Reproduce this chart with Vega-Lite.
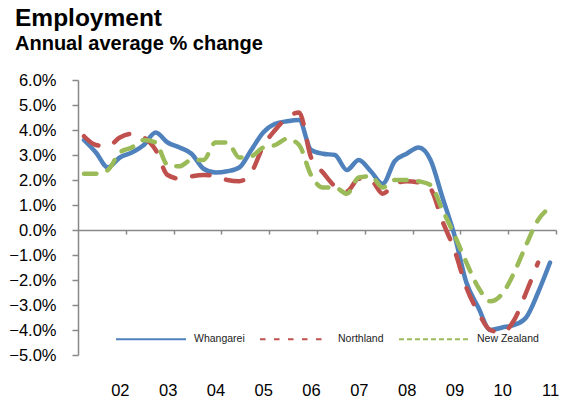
{
  "$schema": "https://vega.github.io/schema/vega-lite/v6.json",
  "width": 478,
  "height": 275,
  "autosize": {"type": "none"},
  "padding": {"left": 78, "top": 80, "right": 9, "bottom": 46},
  "background": "white",
  "config": {"view": {"stroke": null}, "font": "Liberation Sans"},
  "title": {
    "text": "Employment",
    "subtitle": "Annual average % change",
    "anchor": "start",
    "frame": "group",
    "dx": -63,
    "offset": 17,
    "fontSize": 24.5,
    "subtitleFontSize": 20,
    "fontWeight": "bold",
    "subtitleFontWeight": "bold",
    "color": "black",
    "subtitleColor": "black",
    "font": "Liberation Sans",
    "subtitleFont": "Liberation Sans",
    "subtitlePadding": 3
  },
  "data": {
    "values": [
      {"quarter": 0, "series": "Whangarei", "pct": 3.6},
      {"quarter": 1, "series": "Whangarei", "pct": 3.1},
      {"quarter": 2, "series": "Whangarei", "pct": 2.5},
      {"quarter": 3, "series": "Whangarei", "pct": 2.9},
      {"quarter": 4, "series": "Whangarei", "pct": 3.1},
      {"quarter": 5, "series": "Whangarei", "pct": 3.4},
      {"quarter": 6, "series": "Whangarei", "pct": 3.9},
      {"quarter": 7, "series": "Whangarei", "pct": 3.5},
      {"quarter": 8, "series": "Whangarei", "pct": 3.3},
      {"quarter": 9, "series": "Whangarei", "pct": 3.05},
      {"quarter": 10, "series": "Whangarei", "pct": 2.45},
      {"quarter": 11, "series": "Whangarei", "pct": 2.3},
      {"quarter": 12, "series": "Whangarei", "pct": 2.35},
      {"quarter": 13, "series": "Whangarei", "pct": 2.5},
      {"quarter": 14, "series": "Whangarei", "pct": 3.2},
      {"quarter": 15, "series": "Whangarei", "pct": 3.9},
      {"quarter": 16, "series": "Whangarei", "pct": 4.25},
      {"quarter": 17, "series": "Whangarei", "pct": 4.35},
      {"quarter": 18, "series": "Whangarei", "pct": 4.4},
      {"quarter": 19, "series": "Whangarei", "pct": 3.2},
      {"quarter": 20, "series": "Whangarei", "pct": 3.05},
      {"quarter": 21, "series": "Whangarei", "pct": 3.0},
      {"quarter": 22, "series": "Whangarei", "pct": 2.4},
      {"quarter": 23, "series": "Whangarei", "pct": 2.8},
      {"quarter": 24, "series": "Whangarei", "pct": 2.35},
      {"quarter": 25, "series": "Whangarei", "pct": 1.85},
      {"quarter": 26, "series": "Whangarei", "pct": 2.75},
      {"quarter": 27, "series": "Whangarei", "pct": 3.05},
      {"quarter": 28, "series": "Whangarei", "pct": 3.3},
      {"quarter": 29, "series": "Whangarei", "pct": 2.8},
      {"quarter": 30, "series": "Whangarei", "pct": 1.3},
      {"quarter": 31, "series": "Whangarei", "pct": -0.2},
      {"quarter": 32, "series": "Whangarei", "pct": -2.1},
      {"quarter": 33, "series": "Whangarei", "pct": -3.1},
      {"quarter": 34, "series": "Whangarei", "pct": -4.0},
      {"quarter": 35, "series": "Whangarei", "pct": -3.9},
      {"quarter": 36, "series": "Whangarei", "pct": -3.8},
      {"quarter": 37, "series": "Whangarei", "pct": -3.5},
      {"quarter": 38, "series": "Whangarei", "pct": -2.5},
      {"quarter": 39, "series": "Whangarei", "pct": -1.3},
      {"quarter": 0, "series": "Northland", "pct": 3.75},
      {"quarter": 1, "series": "Northland", "pct": 3.4},
      {"quarter": 2, "series": "Northland", "pct": 3.35},
      {"quarter": 3, "series": "Northland", "pct": 3.7},
      {"quarter": 4, "series": "Northland", "pct": 3.85},
      {"quarter": 5, "series": "Northland", "pct": 3.7},
      {"quarter": 6, "series": "Northland", "pct": 3.2},
      {"quarter": 7, "series": "Northland", "pct": 2.2},
      {"quarter": 8, "series": "Northland", "pct": 2.05},
      {"quarter": 9, "series": "Northland", "pct": 2.15},
      {"quarter": 10, "series": "Northland", "pct": 2.2},
      {"quarter": 11, "series": "Northland", "pct": 2.15},
      {"quarter": 12, "series": "Northland", "pct": 2.0},
      {"quarter": 13, "series": "Northland", "pct": 1.95},
      {"quarter": 14, "series": "Northland", "pct": 2.3},
      {"quarter": 15, "series": "Northland", "pct": 3.35},
      {"quarter": 16, "series": "Northland", "pct": 4.0},
      {"quarter": 17, "series": "Northland", "pct": 4.5},
      {"quarter": 18, "series": "Northland", "pct": 4.7},
      {"quarter": 19, "series": "Northland", "pct": 2.9},
      {"quarter": 20, "series": "Northland", "pct": 2.3},
      {"quarter": 21, "series": "Northland", "pct": 1.75},
      {"quarter": 22, "series": "Northland", "pct": 1.55},
      {"quarter": 23, "series": "Northland", "pct": 2.05},
      {"quarter": 24, "series": "Northland", "pct": 2.0},
      {"quarter": 25, "series": "Northland", "pct": 1.45},
      {"quarter": 26, "series": "Northland", "pct": 1.85},
      {"quarter": 27, "series": "Northland", "pct": 1.95},
      {"quarter": 28, "series": "Northland", "pct": 1.9},
      {"quarter": 29, "series": "Northland", "pct": 1.65},
      {"quarter": 30, "series": "Northland", "pct": 0.35},
      {"quarter": 31, "series": "Northland", "pct": -0.8},
      {"quarter": 32, "series": "Northland", "pct": -2.3},
      {"quarter": 33, "series": "Northland", "pct": -3.3},
      {"quarter": 34, "series": "Northland", "pct": -4.0},
      {"quarter": 35, "series": "Northland", "pct": -4.1},
      {"quarter": 36, "series": "Northland", "pct": -3.6},
      {"quarter": 37, "series": "Northland", "pct": -2.5},
      {"quarter": 38, "series": "Northland", "pct": -1.3},
      {"quarter": 0, "series": "New Zealand", "pct": 2.25},
      {"quarter": 1, "series": "New Zealand", "pct": 2.25},
      {"quarter": 2, "series": "New Zealand", "pct": 2.4},
      {"quarter": 3, "series": "New Zealand", "pct": 3.1},
      {"quarter": 4, "series": "New Zealand", "pct": 3.3},
      {"quarter": 5, "series": "New Zealand", "pct": 3.6},
      {"quarter": 6, "series": "New Zealand", "pct": 3.5},
      {"quarter": 7, "series": "New Zealand", "pct": 2.6},
      {"quarter": 8, "series": "New Zealand", "pct": 2.55},
      {"quarter": 9, "series": "New Zealand", "pct": 2.8},
      {"quarter": 10, "series": "New Zealand", "pct": 2.8},
      {"quarter": 11, "series": "New Zealand", "pct": 3.5},
      {"quarter": 12, "series": "New Zealand", "pct": 3.5},
      {"quarter": 13, "series": "New Zealand", "pct": 2.9},
      {"quarter": 14, "series": "New Zealand", "pct": 2.95},
      {"quarter": 15, "series": "New Zealand", "pct": 3.3},
      {"quarter": 16, "series": "New Zealand", "pct": 3.4},
      {"quarter": 17, "series": "New Zealand", "pct": 3.65},
      {"quarter": 18, "series": "New Zealand", "pct": 3.4},
      {"quarter": 19, "series": "New Zealand", "pct": 2.2},
      {"quarter": 20, "series": "New Zealand", "pct": 1.7},
      {"quarter": 21, "series": "New Zealand", "pct": 1.7},
      {"quarter": 22, "series": "New Zealand", "pct": 1.45},
      {"quarter": 23, "series": "New Zealand", "pct": 2.1},
      {"quarter": 24, "series": "New Zealand", "pct": 2.15},
      {"quarter": 25, "series": "New Zealand", "pct": 1.7},
      {"quarter": 26, "series": "New Zealand", "pct": 2.0},
      {"quarter": 27, "series": "New Zealand", "pct": 2.0},
      {"quarter": 28, "series": "New Zealand", "pct": 1.95},
      {"quarter": 29, "series": "New Zealand", "pct": 1.8},
      {"quarter": 30, "series": "New Zealand", "pct": 0.8},
      {"quarter": 31, "series": "New Zealand", "pct": -0.2},
      {"quarter": 32, "series": "New Zealand", "pct": -1.3},
      {"quarter": 33, "series": "New Zealand", "pct": -2.3},
      {"quarter": 34, "series": "New Zealand", "pct": -2.85},
      {"quarter": 35, "series": "New Zealand", "pct": -2.55},
      {"quarter": 36, "series": "New Zealand", "pct": -1.7},
      {"quarter": 37, "series": "New Zealand", "pct": -0.6},
      {"quarter": 38, "series": "New Zealand", "pct": 0.4},
      {"quarter": 39, "series": "New Zealand", "pct": 0.9}
    ]
  },
  "encoding": {
    "y": {
      "field": "pct",
      "type": "quantitative",
      "scale": {"domain": [-5, 6], "nice": false, "zero": false},
      "axis": {
        "title": null,
        "values": [-5, -4, -3, -2, -1, 0, 1, 2, 3, 4, 5, 6],
        "labelExpr": "format(datum.value, '.1f') + '%'",
        "grid": false,
        "domainColor": "#888888",
        "domainWidth": 1.5,
        "tickColor": "#888888",
        "tickWidth": 1.5,
        "tickSize": 6,
        "labelPadding": 16,
        "labelFontSize": 16.5,
        "labelColor": "black",
        "labelFont": "Liberation Sans"
      }
    },
    "color": {
      "field": "series",
      "type": "nominal",
      "scale": {
        "domain": ["Whangarei", "Northland", "New Zealand"],
        "range": ["#4F81BD", "#C0504D", "#9BBB59"]
      },
      "legend": {
        "title": null,
        "orient": "none",
        "legendX": 37,
        "legendY": 223,
        "direction": "horizontal",
        "symbolType": "stroke",
        "symbolSize": 4900,
        "symbolStrokeWidth": 2,
        "labelFontSize": 10.5,
        "labelColor": "#222222",
        "labelFont": "Liberation Sans",
        "labelOffset": 7,
        "columnPadding": 11,
        "padding": 0,
        "encode": {
          "symbols": {
            "update": {
              "strokeDash": {"signal": "datum.value === 'Northland' ? [5.5, 8.5] : datum.value === 'New Zealand' ? [5, 3] : [1, 0]"}
            }
          }
        }
      }
    }
  },
  "layer": [
    {
      "transform": [{"filter": "datum.series === 'Whangarei'"}],
      "mark": {"type": "line", "strokeWidth": 4.5, "strokeCap": "round", "strokeJoin": "round", "interpolate": "monotone"},
      "encoding": {
        "x": {
          "field": "quarter",
          "type": "quantitative",
          "scale": {"domain": [-0.5, 39.5], "nice": false, "zero": false},
          "axis": {
            "title": null,
            "orient": "bottom",
            "values": [3, 7, 11, 15, 19, 23, 27, 31, 35, 39],
            "labelExpr": "((datum.value + 1) / 4 + 1) < 10 ? '0' + ((datum.value + 1) / 4 + 1) : '' + ((datum.value + 1) / 4 + 1)",
            "domain": false,
            "ticks": false,
            "grid": false,
            "labelFlush": false,
            "labelPadding": 27,
            "labelFontSize": 16.5,
            "labelColor": "black",
            "labelFont": "Liberation Sans"
          }
        }
      }
    },
    {
      "transform": [{"filter": "datum.series === 'Northland'"}],
      "mark": {"type": "line", "strokeWidth": 4.5, "strokeCap": "round", "strokeJoin": "round", "strokeDash": [17.5, 17], "interpolate": "monotone"},
      "encoding": {
        "x": {
          "field": "quarter",
          "type": "quantitative",
          "axis": {
            "title": null,
            "orient": "bottom",
            "offset": -125,
            "values": [3.5, 7.5, 11.5, 15.5, 19.5, 23.5, 27.5, 31.5, 35.5, 39.5],
            "labels": false,
            "grid": false,
            "domainColor": "#888888",
            "domainWidth": 1.5,
            "tickColor": "#888888",
            "tickWidth": 1.5,
            "tickSize": 4
          }
        }
      }
    },
    {
      "transform": [{"filter": "datum.series === 'New Zealand'"}],
      "mark": {"type": "line", "strokeWidth": 4.5, "strokeCap": "round", "strokeJoin": "round", "strokeDash": [12.5, 11.5], "interpolate": "monotone"},
      "encoding": {
        "x": {"field": "quarter", "type": "quantitative", "axis": null}
      }
    }
  ],
  "resolve": {"axis": {"x": "independent"}}
}
